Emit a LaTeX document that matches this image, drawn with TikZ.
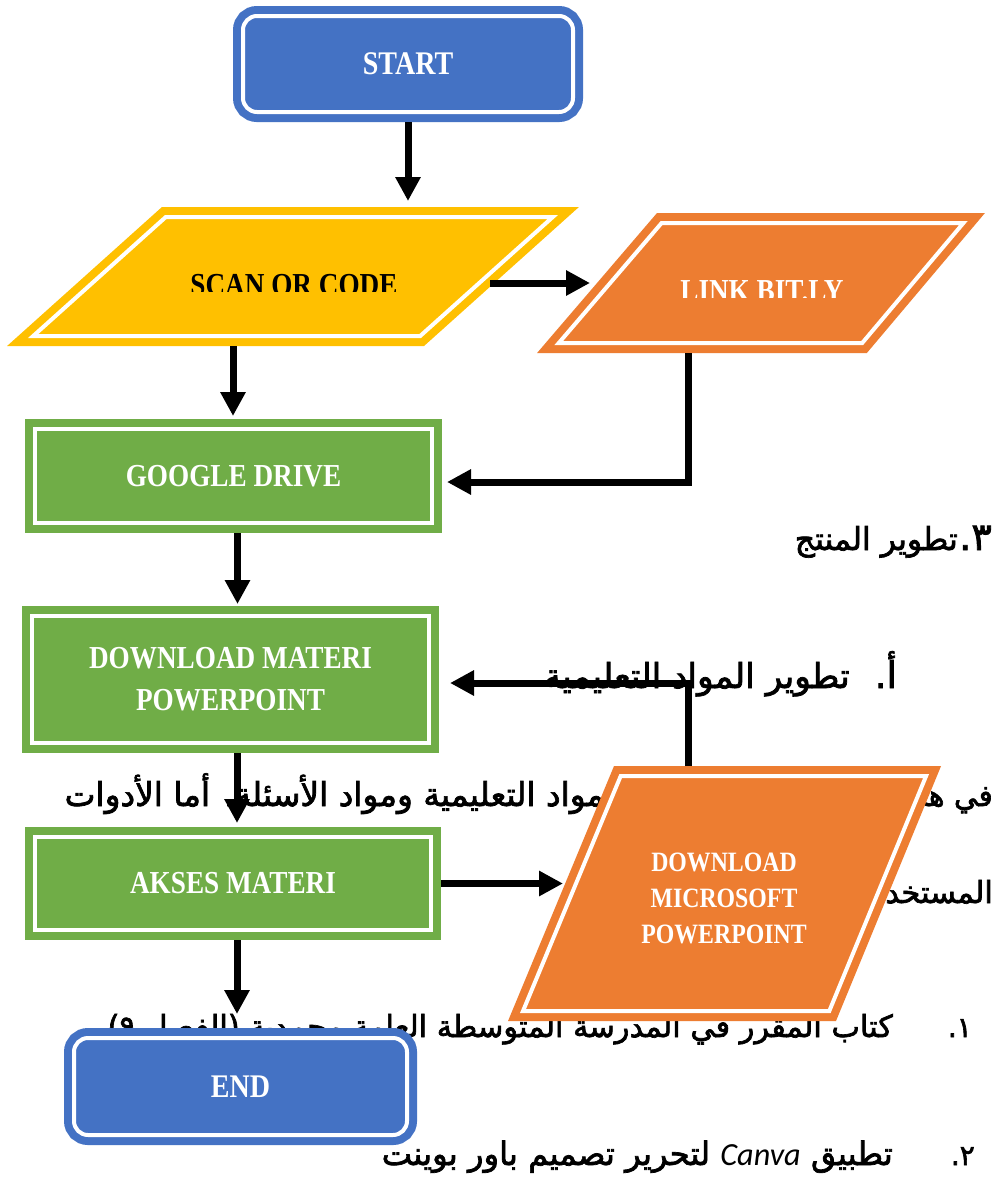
\documentclass[tikz,border=0pt]{standalone}
\usepackage{fontspec}
\usepackage{graphicx}
\setmainfont{Liberation Serif}
\newfontfamily\boxfont{Liberation Serif}[FakeStretch=0.85]
\newfontfamily\arabicfont[Script=Arabic,FakeBold=2.2]{DejaVu Sans}
\newfontfamily\canvafont{Carlito}
\TeXXeTstate=1
\usetikzlibrary{arrows.meta}

\definecolor{boxblue}{HTML}{4472C4}
\definecolor{boxgold}{HTML}{FFC000}
\definecolor{boxorange}{HTML}{ED7D31}
\definecolor{boxgreen}{HTML}{70AD47}

\tikzset{
  shapeline/.style={line width=8pt, double=white, double distance=4pt},
  terminal/.style={shapeline, draw=boxblue, fill=boxblue, rounded corners=14pt,
    inner sep=0pt, outer sep=10pt, text=white,
    font=\boxfont\bfseries\fontsize{33}{38}\selectfont},
  process/.style={shapeline, draw=boxgreen, fill=boxgreen, inner sep=0pt,
    outer sep=10pt, text=white, align=center,
    font=\boxfont\bfseries\fontsize{32}{42}\selectfont},
  iotext/.style={inner sep=0pt, align=center,
    font=\boxfont\bfseries\fontsize{32}{38}\selectfont},
  flow/.style={line width=7pt, -{Triangle[length=24pt,width=24pt]}},
  artext/.style={inner sep=0pt, anchor=base east},
  arnum/.style={inner sep=0pt, anchor=base east, font=\arabicfont\fontsize{38}{38}\selectfont},
}
\newcommand{\artxt}[2]{\resizebox{#1}{!}{\arabicfont #2}}

\begin{document}
\begin{tikzpicture}[x=1pt,y=-1pt]
  \fill[white] (0,0) rectangle (996,1181);
  \useasboundingbox (0,0) rectangle (996,1181);

  % Arabic text of the page behind the chart
  \node[arnum] (numA) at (992,550) {٣.};
  \node[artext] (txtA) at (958,550) {\artxt{163pt}{\beginR تطوير المنتج\endR}};
  \node[artext] (numB) at (897,688) {\artxt{22pt}{\beginR أ.\endR}};
  \node[artext] (txtB) at (850,688) {\artxt{306pt}{\beginR تطوير المواد التعليمية\endR}};
  \node[artext] (txtCa) at (993,806) {\artxt{95pt}{\beginR في هذه\endR}};
  \node[artext] (txtCb) at (625,806) {\artxt{560pt}{\beginR المواد التعليمية ومواد الأسئلة. أما الأدوات\endR}};
  \node[artext] (txtD) at (993,903) {\artxt{140pt}{\beginR المستخدمة\endR}};
  \node[arnum, font=\arabicfont\fontsize{28}{28}\selectfont] (numE) at (972,1037) {١.};
  \node[artext] (txtE) at (893,1037) {\artxt{785pt}{\beginR كتاب المقرر في المدرسة المتوسطة العامة محمدية (الفصل ٩)\endR}};
  \node[arnum, font=\arabicfont\fontsize{28}{28}\selectfont] (numF) at (975,1165) {٢.};
  \node[artext] (txtF) at (893,1165) {\artxt{511pt}{\beginR تطبيق \beginL{\canvafont\itshape Canva}\endL{} لتحرير تصميم باور بوينت\endR}};

  % Terminals and process boxes
  \node[terminal, minimum width=330pt, minimum height=96pt] (start) at (408,64) {START};
  \node[process, minimum width=397pt, minimum height=94pt] (google) at (233.5,476) {GOOGLE DRIVE};
  \node[process, minimum width=397pt, minimum height=127pt] (dlmat) at (230.5,679.5) {DOWNLOAD MATERI\\POWERPOINT};
  \node[process, minimum width=396pt, minimum height=93pt] (akses) at (233,883.5) {AKSES MATERI};
  \node[terminal, minimum width=333pt, minimum height=97pt] (finish) at (240.5,1086.5) {END};

  % Input parallelograms
  \draw[shapeline, draw=boxgold, fill=boxgold] (165.8,217) -- (552.8,217) -- (420.2,336) -- (33.2,336) -- cycle;
  \draw[shapeline, draw=boxorange, fill=boxorange] (661.6,223) -- (963.4,223) -- (862.2,343) -- (558.8,343) -- cycle;
  \draw[shapeline, draw=boxorange, fill=boxorange] (620.7,776) -- (926.1,776) -- (829.3,1011) -- (523,1011) -- cycle;

  \begin{scope}
    \clip (0,0) rectangle (996,291);
    \node[iotext, anchor=base] (scan) at (294,295) {SCAN QR CODE};
  \end{scope}
  \begin{scope}
    \clip (0,0) rectangle (996,297);
    \node[iotext, anchor=base, text=white] (link) at (762,301) {LINK BIT.LY};
  \end{scope}
  \node[iotext, text=white, font=\boxfont\bfseries\fontsize{28}{36}\selectfont] (dlms) at (724,898) {DOWNLOAD\\MICROSOFT\\POWERPOINT};

  % Connector ends on the parallelograms
  \coordinate (scanin) at (408,201);
  \coordinate (scanright) at (490,283);
  \coordinate (linkin) at (590,283);
  \coordinate (scanbot) at (233,346);
  \coordinate (linkbot) at (688,353);
  \coordinate (dlmstop) at (688,766);
  \coordinate (dlmsin) at (563,883.5);

  % Arrows
  \draw[flow] (start.south) -- (scanin);
  \draw[flow] (scanright) -- (linkin);
  \draw[flow, shorten >=3pt] (scanbot) -- (scanbot |- google.north);
  \draw[flow, shorten >=5pt] (linkbot) |- ([yshift=-6pt]google.east);
  \draw[flow, shorten >=2pt] ([xshift=4pt]google.south) -- ([xshift=4pt]google.south |- dlmat.north);
  \draw[flow, shorten >=11pt] (dlmstop) |- ([yshift=-3.5pt]dlmat.east);
  \draw[flow, shorten >=4pt] ([xshift=6.5pt]dlmat.south) -- ([xshift=6.5pt]dlmat.south |- akses.north);
  \draw[flow] (akses.east) -- (dlmsin);
  \draw[flow, shorten >=14pt] ([xshift=4pt]akses.south) -- ([xshift=4pt]akses.south |- finish.north);
\end{tikzpicture}
\end{document}
